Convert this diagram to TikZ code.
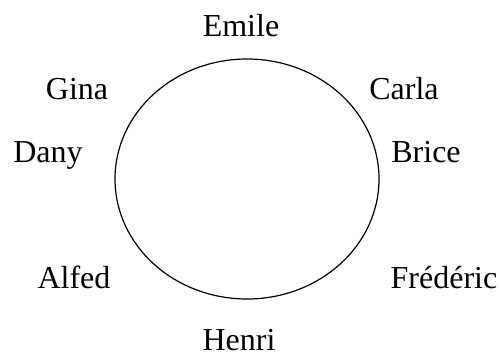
\documentclass[tikz,border=0pt]{standalone}
\usepackage{fontspec}
\setmainfont{Liberation Serif}
\usetikzlibrary{positioning}

\begin{document}
\begin{tikzpicture}[x=1pt,y=1pt]
      \tikzstyle{person}=[anchor=base,inner sep=0pt,font=\fontsize{32}{38}\selectfont]
      \useasboundingbox (0,0) rectangle (501,-356);
      \draw[line width=1.2pt] (247,-179) ellipse (132 and 120);
      \node[person] (emile) at (241,-36) {Emile};
      \node[person] (gina) at (77,-99) {Gina};
      \node[person] (carla) at (404,-99) {Carla};
      \node[person] (dany) at (48,-162) {Dany};
      \node[person] (brice) at (426,-162) {Brice};
      \node[person] (alfed) at (74,-288) {Alfed};
      \node[person] (frederic) at (444,-288) {Frédéric};
      \node[person] (henri) at (239,-350) {Henri};
    \end{tikzpicture}
\end{document}
